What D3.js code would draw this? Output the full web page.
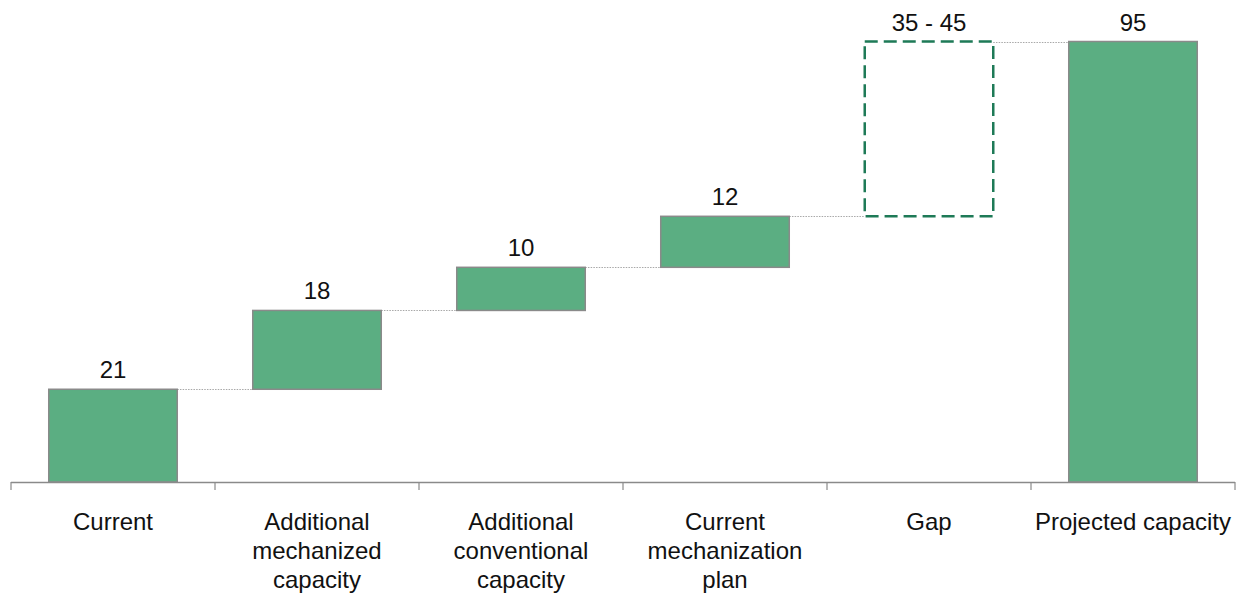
<!DOCTYPE html>
<html>
<head>
<meta charset="utf-8">
<script src="https://cdn.jsdelivr.net/npm/d3@7"></script>
<style>
  html, body { margin: 0; padding: 0; background: #fff; }
  svg { display: block; }
  text { font-family: "Liberation Sans", Arial, sans-serif; fill: #111; }
</style>
</head>
<body>
<svg id="chart" width="1245" height="599"></svg>
<script>
// ---- Data ----
const categories = [
  ["Current"],
  ["Additional", "mechanized", "capacity"],
  ["Additional", "conventional", "capacity"],
  ["Current", "mechanization", "plan"],
  ["Gap"],
  ["Projected capacity"]
];
// plotted step heights (same units as the total)
const stepValues = [20, 17, 9.3, 11, 37.7];
const totalValue = 95;
const valueLabels = ["21", "18", "10", "12", "35 - 45", "95"];
const kinds = ["base", "step", "step", "step", "gap", "total"];

// ---- Layout ----
const svg = d3.select("#chart");
const axisY = 482;
const x = d3.scaleBand()
  .domain(d3.range(categories.length))
  .range([11, 1235])
  .paddingInner(0.37)
  .paddingOuter(0.185);
const y = d3.scaleLinear().domain([0, totalValue]).range([axisY, 41.5]);

// compute running totals
const bars = [];
let run = 0;
stepValues.forEach((v, i) => {
  bars.push({ i, start: run, end: run + v, kind: kinds[i], label: valueLabels[i] });
  run += v;
});
bars.push({ i: 5, start: 0, end: totalValue, kind: "total", label: valueLabels[5] });

const fillCol = "#5bae82";
const strokeCol = "#8a8a8a";

// connectors
const conn = svg.append("g");
for (let k = 0; k < bars.length - 1; k++) {
  const a = bars[k], b = bars[k + 1];
  const level = a.end;
  conn.append("line")
    .attr("x1", x(a.i) + x.bandwidth())
    .attr("x2", x(b.i))
    .attr("y1", Math.round(y(level)) + 0.5)
    .attr("y2", Math.round(y(level)) + 0.5)
    .attr("stroke", "#a8a8a8")
    .attr("stroke-width", 1)
    .attr("stroke-dasharray", "1.5,1.2");
}

// bars
const g = svg.append("g");
g.selectAll("rect.bar")
  .data(bars)
  .join("rect")
  .attr("class", "bar")
  .attr("x", d => x(d.i))
  .attr("width", x.bandwidth())
  .attr("y", d => y(d.end))
  .attr("height", d => y(d.start) - y(d.end))
  .attr("fill", d => d.kind === "gap" ? "none" : fillCol)
  .attr("stroke", d => d.kind === "gap" ? "#1e7a57" : strokeCol)
  .attr("stroke-width", d => d.kind === "gap" ? 2.5 : 1.5)
  .attr("stroke-dasharray", d => d.kind === "gap" ? "13,6" : null);

// value labels
g.selectAll("text.val")
  .data(bars)
  .join("text")
  .attr("class", "val")
  .attr("x", d => x(d.i) + x.bandwidth() / 2)
  .attr("y", d => y(d.end) - 11)
  .attr("text-anchor", "middle")
  .style("font-size", "24px")
  .text(d => d.label);

// axis
const ax = svg.append("g");
ax.append("line")
  .attr("x1", 11).attr("x2", 1235)
  .attr("y1", axisY + 0.5).attr("y2", axisY + 0.5)
  .attr("stroke", "#8a8a8a").attr("stroke-width", 1.5);
const step = x.step();
d3.range(categories.length + 1).forEach(k => {
  const tx = 11 + k * step;
  ax.append("line")
    .attr("x1", tx).attr("x2", tx)
    .attr("y1", axisY).attr("y2", axisY + 8)
    .attr("stroke", "#8a8a8a").attr("stroke-width", 1.2);
});

// category labels
categories.forEach((lines, i) => {
  const t = ax.append("text")
    .attr("text-anchor", "middle")
    .style("font-size", "24px");
  lines.forEach((ln, j) => {
    t.append("tspan")
      .attr("x", x(i) + x.bandwidth() / 2)
      .attr("y", 530 + j * 29)
      .text(ln);
  });
});
</script>
</body>
</html>
